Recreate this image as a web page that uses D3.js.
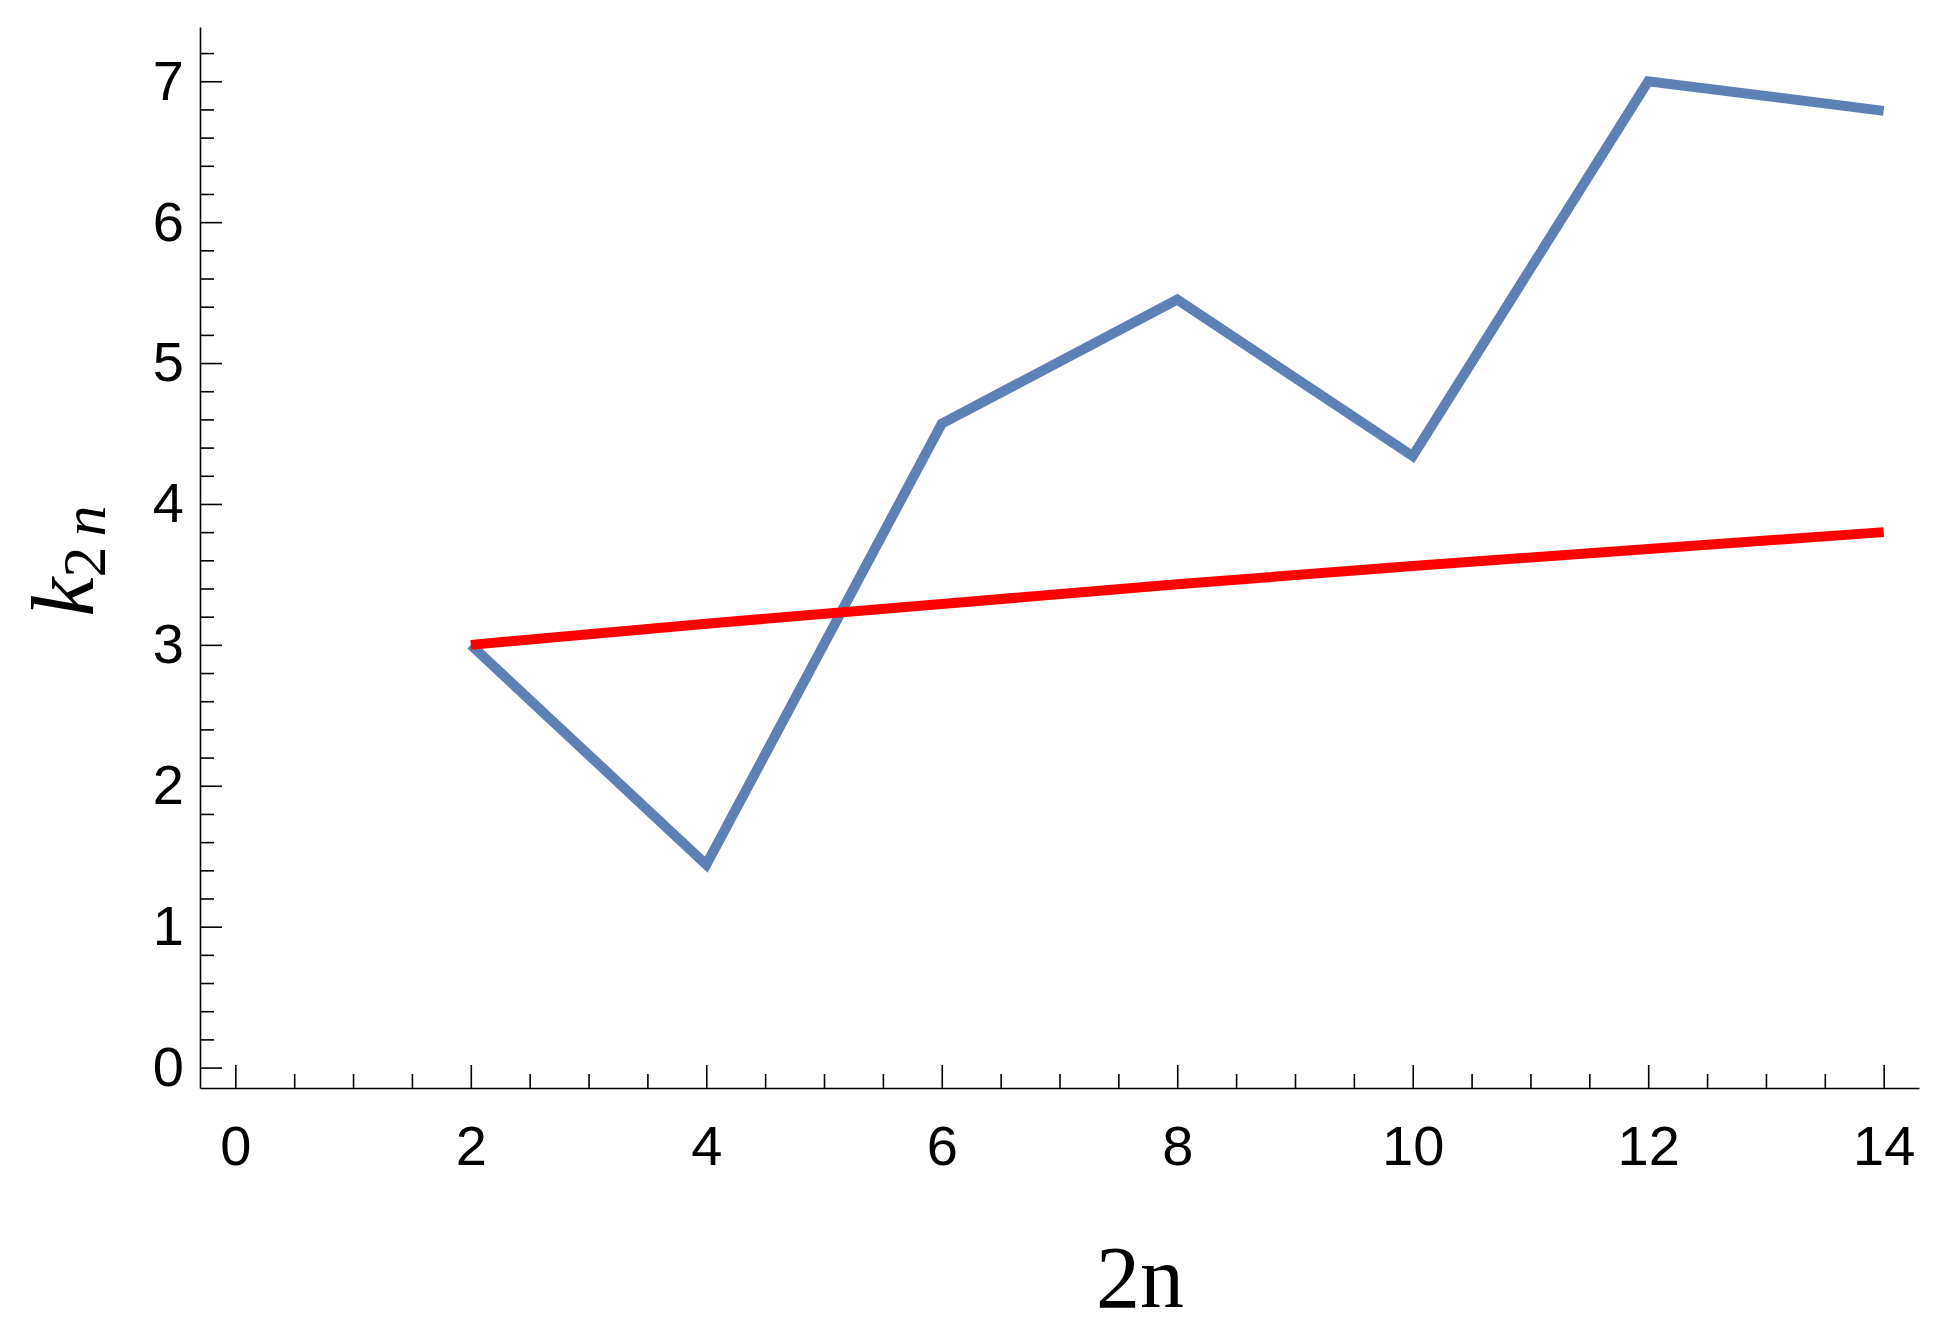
<!DOCTYPE html>
<html>
<head>
<meta charset="utf-8">
<script src="https://cdn.jsdelivr.net/npm/d3@7"></script>
<style>
  body { margin: 0; background: #fff; }
  .axis text { font-family: "Liberation Sans", Arial, sans-serif; font-size: 56px; fill: #000; }
  .axis line, .axis path { stroke: #000; stroke-width: 1.6px; }
</style>
</head>
<body>
<div id="chart"></div>
<script>
// data
var nValues = [2, 4, 6, 8, 10, 12, 14];
var k2n = [3.0, 1.44, 4.57, 5.45, 4.34, 7.0, 6.79];
var refLine = [3.0, 3.15, 3.29, 3.43, 3.56, 3.68, 3.8];

// tick labels
var xTicks = [0, 2, 4, 6, 8, 10, 12, 14];
var yTicks = [0, 1, 2, 3, 4, 5, 6, 7];

var width = 1942, height = 1335;

var svg = d3.select("#chart").append("svg")
    .attr("width", width)
    .attr("height", height);

// plot range, in data units, matching the frame of the picture
var x = d3.scaleLinear().domain([-0.3, 14.3]).range([200, 1919]);
var y = d3.scaleLinear().domain([-0.145, 7.385]).range([1088, 27]);

// minor ticks
var xMinor = d3.range(0, 14.01, 0.5).filter(function(v) { return Math.abs(v % 2) > 1e-6; });
var yMinor = d3.range(0, 7.21, 0.2).filter(function(v) { return Math.abs(v - Math.round(v)) > 1e-6; });

svg.append("g")
    .attr("class", "axis")
    .attr("transform", "translate(0,1088)")
    .call(d3.axisBottom(x).tickValues(xMinor).tickSize(-14).tickSizeOuter(0).tickFormat(""))
    .call(function(g) { g.select(".domain").remove(); });

svg.append("g")
    .attr("class", "axis")
    .attr("transform", "translate(200,0)")
    .call(d3.axisLeft(y).tickValues(yMinor).tickSize(-14).tickSizeOuter(0).tickFormat(""))
    .call(function(g) { g.select(".domain").remove(); });

// major axes, ticks pointing inward
svg.append("g")
    .attr("class", "axis")
    .attr("transform", "translate(0,1088)")
    .call(d3.axisBottom(x).tickValues(xTicks).tickSize(-23).tickSizeOuter(0).tickPadding(37).tickFormat(d3.format("d")));

svg.append("g")
    .attr("class", "axis")
    .attr("transform", "translate(200,0)")
    .call(d3.axisLeft(y).tickValues(yTicks).tickSize(-22).tickSizeOuter(0).tickPadding(16).tickFormat(d3.format("d")));

svg.selectAll(".axis .domain").attr("fill", "none");

// lines
var line = d3.line()
    .x(function(d) { return x(d[0]); })
    .y(function(d) { return y(d[1]); });

svg.append("path")
    .datum(d3.zip(nValues, k2n))
    .attr("d", line)
    .attr("fill", "none")
    .attr("stroke", "#5E81B5")
    .attr("stroke-width", 10);

svg.append("path")
    .datum(d3.zip(nValues, refLine))
    .attr("d", line)
    .attr("fill", "none")
    .attr("stroke", "#FF0000")
    .attr("stroke-width", 10);

// axis titles
svg.append("text")
    .attr("x", 1140)
    .attr("y", 1307)
    .attr("text-anchor", "middle")
    .style("font-family", "Liberation Serif, Times New Roman, serif")
    .style("font-size", "88px")
    .text("2n");

var ylab = svg.append("text")
    .attr("transform", "translate(93,561) rotate(-90)")
    .attr("text-anchor", "middle")
    .style("font-family", "Liberation Serif, Times New Roman, serif");
ylab.append("tspan").style("font-style", "italic").style("font-size", "88px").text("k");
ylab.append("tspan").attr("dy", 12).style("font-size", "62px").text("2");
ylab.append("tspan").style("font-style", "italic").style("font-size", "62px").attr("dx", 10).text("n");
</script>
</body>
</html>
